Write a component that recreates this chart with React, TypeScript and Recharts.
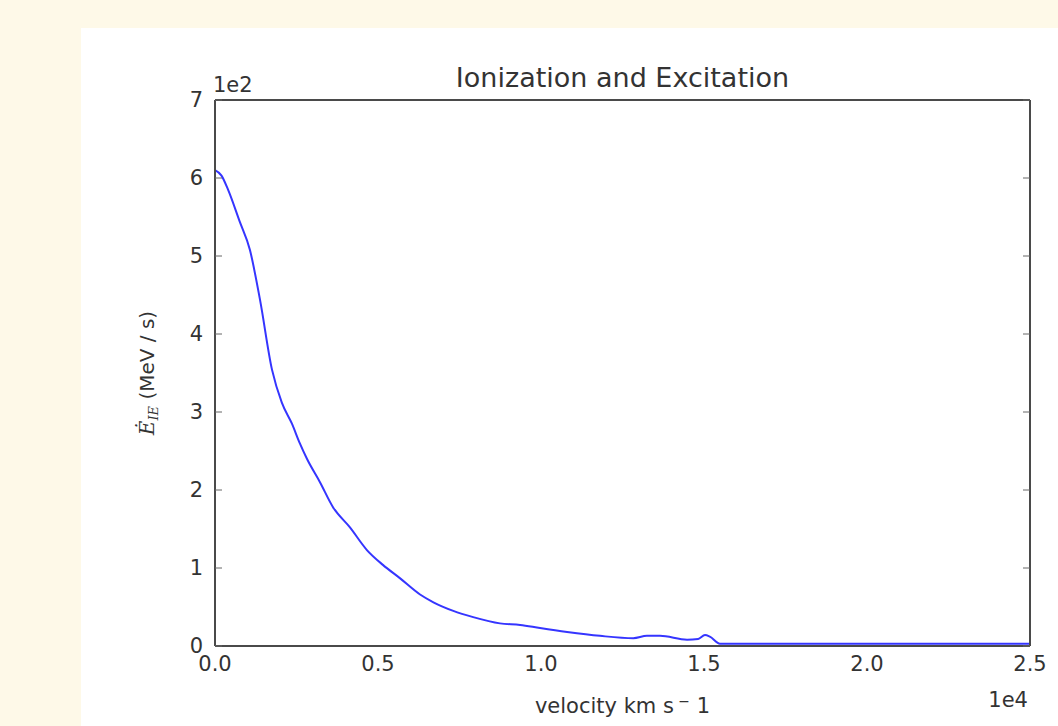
import React from "react";
import { LineChart, Line, XAxis, YAxis } from "recharts";

const velocity = [0, 200, 400, 750, 1070, 1380, 1750, 2050, 2360, 2600, 2820, 3220, 3620, 4140, 4660, 5150, 5670, 6290, 6700, 7310, 7920, 8740, 9360, 9970, 10800, 11810, 12830, 13250, 13650, 14480, 14820, 15030, 15180, 15490, 16000, 20000, 25000];
const energyRate = [610, 603, 585, 545, 508, 444, 354, 312, 285, 260, 240, 210, 178, 152, 123, 104, 87, 66, 56, 45, 37, 29, 27, 23, 18, 13, 10, 13, 13, 8, 9, 14, 12, 3, 3, 3, 3];
const xTicks = [0, 5000, 10000, 15000, 20000, 25000];
const yTicks = [0, 100, 200, 300, 400, 500, 600, 700];
const titleText = "Ionization and Excitation";
const xOffsetText = "1e4";
const yOffsetText = "1e2";

const data = velocity.map((v, i) => ({ v, e: energyRate[i] }));

const W = 1058;
const H = 726;
const PL = 215;
const PR = 1030;
const PT = 100;
const PB = 646;

const FONT = "'DejaVu Sans', 'Liberation Sans', sans-serif";
const SPINE = "#4a4a4a";
const TICK = "#666";
const TXT = "#333";

const Empty = () => <g />;

export default function App() {
  const cx = (PL + PR) / 2;
  const cy = (PT + PB) / 2;
  return (
    <div style={{ position: "absolute", left: 0, top: 0, width: W, height: H, background: "#fef9e8", overflow: "hidden" }}>
      <div style={{ position: "absolute", left: 81, top: 28, width: W - 81, height: H - 28, background: "#ffffff" }} />
      <div style={{ position: "absolute", left: 0, top: 0 }}>
        <LineChart
          width={W}
          height={H}
          data={data}
          margin={{ top: PT, right: W - PR, left: PL - 60, bottom: H - PB - 30 }}
        >
          <XAxis
            xAxisId="x"
            dataKey="v"
            type="number"
            domain={[0, 25000]}
            ticks={xTicks}
            allowDataOverflow
            height={30}
            tickLine={false}
            tickSize={0}
            tickMargin={10}
            axisLine={{ stroke: SPINE, strokeWidth: 2 }}
            tick={{ fill: TXT, fontSize: 21, fontFamily: FONT }}
            tickFormatter={(t: number) => (t / 10000).toFixed(1)}
          />
          <XAxis
            xAxisId="xb"
            type="number"
            domain={[0, 25000]}
            ticks={xTicks}
            allowDataOverflow
            mirror
            tickSize={7}
            tickLine={{ stroke: TICK, strokeWidth: 1 }}
            axisLine={false}
            tick={<Empty />}
          />
          <XAxis
            xAxisId="xt"
            orientation="top"
            type="number"
            domain={[0, 25000]}
            ticks={xTicks}
            allowDataOverflow
            mirror
            tickSize={7}
            tickLine={{ stroke: TICK, strokeWidth: 1 }}
            axisLine={{ stroke: SPINE, strokeWidth: 2 }}
            tick={<Empty />}
          />
          <YAxis
            yAxisId="y"
            type="number"
            domain={[0, 700]}
            ticks={yTicks}
            allowDataOverflow
            width={60}
            tickLine={false}
            tickSize={0}
            tickMargin={12}
            axisLine={{ stroke: SPINE, strokeWidth: 2 }}
            tick={{ fill: TXT, fontSize: 21, fontFamily: FONT }}
            tickFormatter={(t: number) => String(Math.round(t / 100))}
          />
          <YAxis
            yAxisId="yl"
            type="number"
            domain={[0, 700]}
            ticks={yTicks}
            allowDataOverflow
            mirror
            tickSize={7}
            tickLine={{ stroke: TICK, strokeWidth: 1 }}
            axisLine={false}
            tick={<Empty />}
          />
          <YAxis
            yAxisId="yr"
            orientation="right"
            type="number"
            domain={[0, 700]}
            ticks={yTicks}
            allowDataOverflow
            mirror
            tickSize={7}
            tickLine={{ stroke: TICK, strokeWidth: 1 }}
            axisLine={{ stroke: SPINE, strokeWidth: 2 }}
            tick={<Empty />}
          />
          <Line
            xAxisId="x"
            yAxisId="y"
            dataKey="e"
            type="monotone"
            stroke="#3535ff"
            strokeWidth={2}
            dot={false}
            activeDot={false}
            isAnimationActive={false}
          />
        </LineChart>
      </div>
      <svg
        width={W}
        height={H}
        style={{ position: "absolute", left: 0, top: 0, pointerEvents: "none" }}
      >
        <text x={cx} y={87} textAnchor="middle" fontFamily={FONT} fontSize={27} fill={TXT}>
          {titleText}
        </text>
        <text x={PL - 2} y={92} textAnchor="start" fontFamily={FONT} fontSize={21} fill={TXT}>
          {yOffsetText}
        </text>
        <text x={PR - 2} y={707} textAnchor="end" fontFamily={FONT} fontSize={21} fill={TXT}>
          {xOffsetText}
        </text>
        <text x={cx} y={713} textAnchor="middle" fontFamily={FONT} fontSize={21} fill={TXT}>
          velocity km s
          <tspan dy={-7} fontSize={14}> −</tspan>
          <tspan dy={7}> 1</tspan>
        </text>
        <text
          x={0}
          y={0}
          transform={`translate(154, ${cy}) rotate(-90)`}
          textAnchor="middle"
          fontFamily={FONT}
          fontSize={20}
          fill={TXT}
        >
          <tspan fontFamily="'DejaVu Serif', serif" fontStyle="italic">Ė</tspan>
          <tspan fontFamily="'DejaVu Serif', serif" fontStyle="italic" fontSize={13} dy={4}>IE</tspan>
          <tspan dy={-4}> (MeV / s)</tspan>
        </text>
      </svg>
    </div>
  );
}
